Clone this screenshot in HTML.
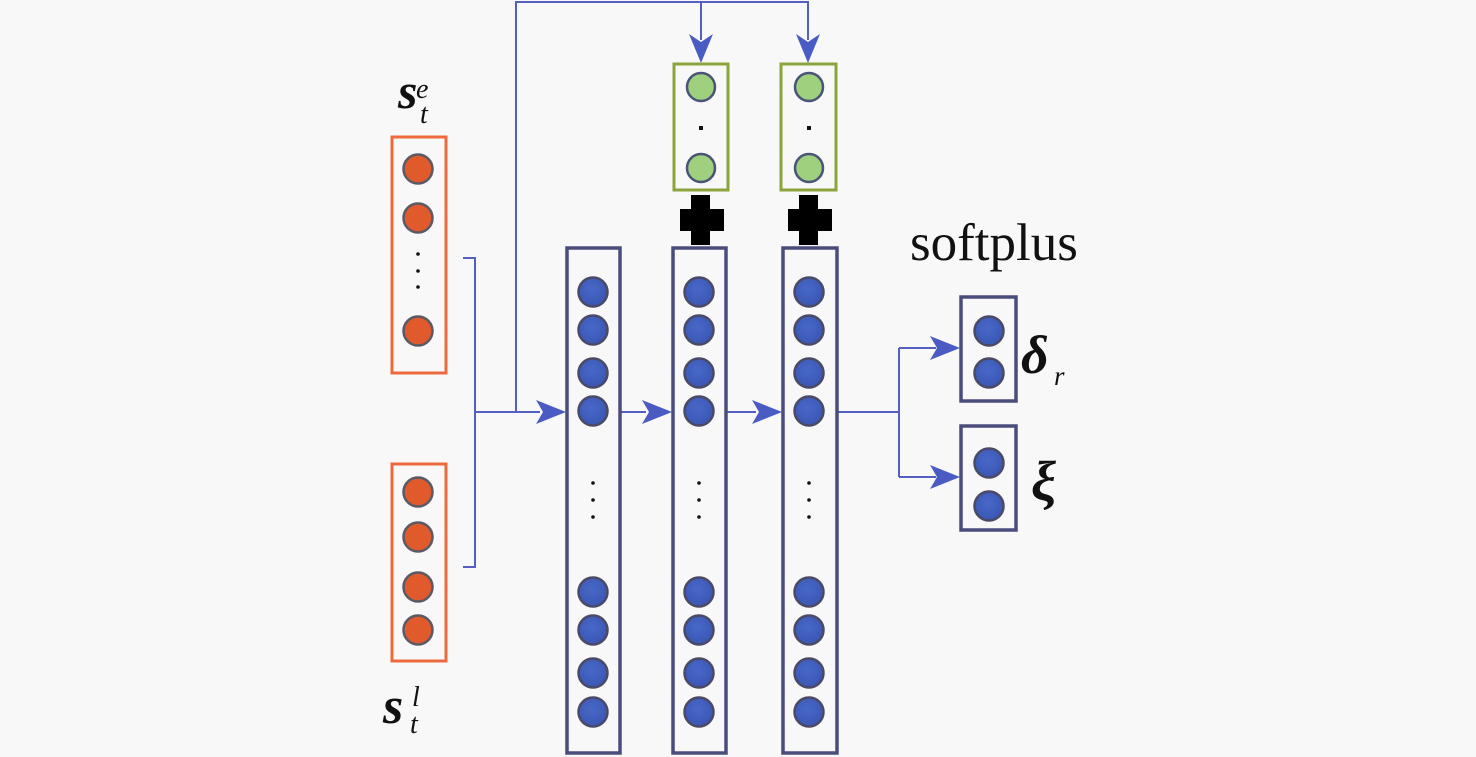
<!DOCTYPE html>
<html><head><meta charset="utf-8"><style>
html,body{margin:0;padding:0;background:#f8f8f8;}
svg{display:block;}
</style></head><body>
<svg width="1476" height="757" viewBox="0 0 1476 757" xmlns="http://www.w3.org/2000/svg">
<rect width="1476" height="757" fill="#f8f8f8"/>
<defs>
<radialGradient id="gb" cx="0.45" cy="0.4" r="0.6"><stop offset="0" stop-color="#4868c8"/><stop offset="1" stop-color="#3a56b4"/></radialGradient>
</defs>
<!-- connectors -->
<g stroke="#5460c0" stroke-width="2" fill="none">
<path d="M463 258 H475 V567 H463"/>
<path d="M475 412 H540"/>
<path d="M516 412 V2 H808 V40"/>
<path d="M701 2 V40"/>
<path d="M621 412 H646"/>
<path d="M727 412 H756"/>
<path d="M838 412 H899 M899 348 V477 M899 348 H936 M899 477 H936"/>
</g>
<g fill="#4a5cc4">
<path d="M566 412 L536 400 L543 412 L536 424 Z"/>
<path d="M672 412 L642 400 L649 412 L642 424 Z"/>
<path d="M782 412 L752 400 L759 412 L752 424 Z"/>
<path d="M960 348 L930 336 L937 348 L930 360 Z"/>
<path d="M960 477 L930 465 L937 477 L930 489 Z"/>
<path d="M701 63 L689 34 L701 42 L713 34 Z"/>
<path d="M808 63 L796 34 L808 42 L820 34 Z"/>
</g>
<!-- orange boxes -->
<g fill="none" stroke="#ee6a3c" stroke-width="3">
<rect x="392" y="137" width="54" height="236"/>
<rect x="392" y="464" width="54" height="197"/>
</g>
<g fill="#e05a2c" stroke="#5a5a66" stroke-width="2.5">
<circle cx="418" cy="169" r="14.5"/>
<circle cx="418" cy="218" r="14.5"/>
<circle cx="418" cy="331" r="14.5"/>
<circle cx="418" cy="492" r="14.5"/>
<circle cx="418" cy="537" r="14.5"/>
<circle cx="418" cy="587" r="14.5"/>
<circle cx="418" cy="630" r="14.5"/>
</g>
<g fill="#111">
<circle cx="418" cy="254" r="1.8"/><circle cx="418" cy="271" r="1.8"/><circle cx="418" cy="287" r="1.8"/>
</g>
<!-- green boxes -->
<g fill="none" stroke="#8ca43c" stroke-width="3">
<rect x="674" y="64" width="54" height="126"/>
<rect x="781" y="64" width="55" height="126"/>
</g>
<g fill="#9ed07e" stroke="#4a5478" stroke-width="2.5">
<circle cx="701" cy="87" r="14"/>
<circle cx="701" cy="168" r="14"/>
<circle cx="809" cy="87" r="14"/>
<circle cx="809" cy="168" r="14"/>
</g>
<g fill="#111">
<rect x="699" y="126" width="4" height="4"/>
<rect x="807" y="126" width="4" height="4"/>
</g>
<!-- plus signs -->
<g fill="#000">
<rect x="691" y="195" width="19" height="50"/>
<rect x="680" y="209" width="44" height="22"/>
<rect x="799" y="195" width="19" height="50"/>
<rect x="788" y="209" width="44" height="22"/>
</g>
<!-- blue columns -->
<g fill="none" stroke="#4a4c7c" stroke-width="3.5">
<rect x="567" y="248" width="53" height="505"/>
<rect x="673" y="248" width="53" height="505"/>
<rect x="783" y="248" width="54" height="505"/>
<rect x="961" y="297" width="55" height="104"/>
<rect x="961" y="426" width="55" height="104"/>
</g>
<g fill="url(#gb)" stroke="#4a4a66" stroke-width="2.5">
<circle cx="593" cy="292" r="14.5"/><circle cx="593" cy="330" r="14.5"/><circle cx="593" cy="373" r="14.5"/><circle cx="593" cy="411" r="14.5"/>
<circle cx="593" cy="592" r="14.5"/><circle cx="593" cy="630" r="14.5"/><circle cx="593" cy="673" r="14.5"/><circle cx="593" cy="712" r="14.5"/>
<circle cx="699" cy="292" r="14.5"/><circle cx="699" cy="330" r="14.5"/><circle cx="699" cy="373" r="14.5"/><circle cx="699" cy="411" r="14.5"/>
<circle cx="699" cy="592" r="14.5"/><circle cx="699" cy="630" r="14.5"/><circle cx="699" cy="673" r="14.5"/><circle cx="699" cy="712" r="14.5"/>
<circle cx="809" cy="292" r="14.5"/><circle cx="809" cy="330" r="14.5"/><circle cx="809" cy="373" r="14.5"/><circle cx="809" cy="411" r="14.5"/>
<circle cx="809" cy="592" r="14.5"/><circle cx="809" cy="630" r="14.5"/><circle cx="809" cy="673" r="14.5"/><circle cx="809" cy="712" r="14.5"/>
<circle cx="989" cy="331" r="14.5"/><circle cx="989" cy="373" r="14.5"/>
<circle cx="989" cy="463" r="14.5"/><circle cx="989" cy="506" r="14.5"/>
</g>
<g fill="#111">
<circle cx="593" cy="483" r="1.8"/><circle cx="593" cy="500" r="1.8"/><circle cx="593" cy="517" r="1.8"/>
<circle cx="699" cy="483" r="1.8"/><circle cx="699" cy="500" r="1.8"/><circle cx="699" cy="517" r="1.8"/>
<circle cx="809" cy="483" r="1.8"/><circle cx="809" cy="500" r="1.8"/><circle cx="809" cy="517" r="1.8"/>
</g>
<!-- labels -->
<g font-family="Liberation Serif, serif" fill="#111">
<text x="910" y="260" font-size="53">softplus</text>
<text x="398" y="108" font-size="50" font-weight="bold" font-style="italic">s</text>
<text x="416" y="98" font-size="28" font-style="italic">e</text>
<text x="420" y="123" font-size="28" font-style="italic">t</text>
<text x="383" y="723" font-size="52" font-weight="bold" font-style="italic">s</text>
<text x="412" y="706" font-size="28" font-style="italic">l</text>
<text x="410" y="733" font-size="28" font-style="italic">t</text>
<text x="1021" y="373" font-size="54" font-weight="bold" font-style="italic">δ</text>
<text x="1054" y="385" font-size="27" font-style="italic">r</text>
<text x="1031" y="500" font-size="56" font-weight="bold" font-style="italic">ξ</text>
</g>
</svg>
</body></html>
